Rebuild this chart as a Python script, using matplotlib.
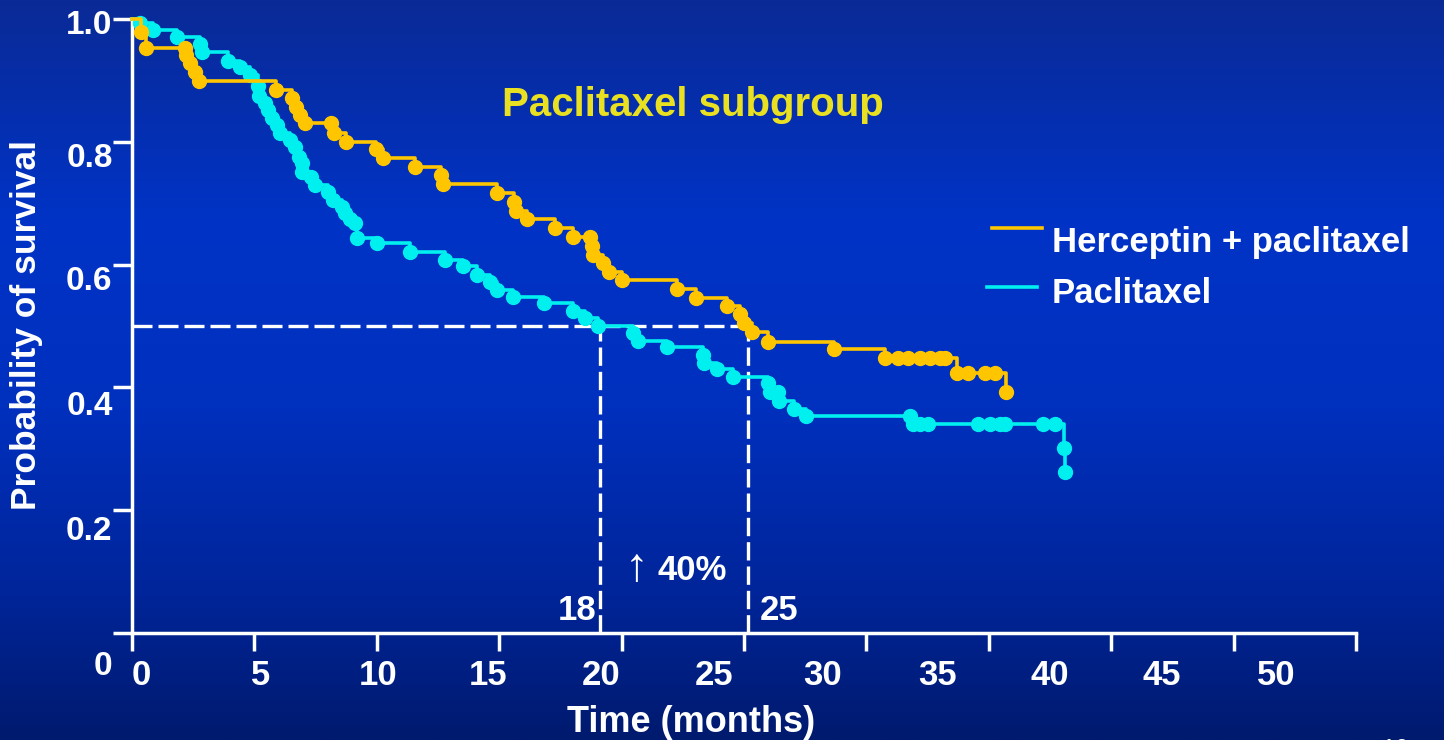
import numpy as np
import matplotlib
matplotlib.use("Agg")
import matplotlib.pyplot as plt
from matplotlib.colors import LinearSegmentedColormap
from matplotlib.lines import Line2D

# ---------------- data ----------------
herceptin_t = [0, 0.37, 0.59, 2.17, 2.21, 2.37, 2.57, 2.74, 5.88, 6.54, 6.70, 6.86, 7.07,
               8.13, 8.25, 8.74, 9.97, 10.25, 11.56, 12.62, 12.70, 14.91, 15.60, 15.69,
               16.14, 17.28, 18.01, 18.70, 18.78, 18.82, 19.25, 19.50, 20.02, 22.26, 23.04,
               24.31, 24.84, 25.00, 25.33, 25.98, 28.68, 30.76, 31.30, 31.71, 32.19, 32.60,
               33.01, 33.21, 33.69, 34.16, 34.85, 35.25, 35.70]
herceptin_s = [1.0, 0.979, 0.952, 0.952, 0.941, 0.928, 0.914, 0.899, 0.885, 0.872, 0.857,
               0.844, 0.830, 0.830, 0.814, 0.800, 0.788, 0.773, 0.759, 0.746, 0.731, 0.716,
               0.702, 0.687, 0.674, 0.660, 0.645, 0.645, 0.630, 0.616, 0.602, 0.588, 0.575,
               0.561, 0.546, 0.532, 0.519, 0.505, 0.491, 0.474, 0.463, 0.448, 0.448, 0.448,
               0.448, 0.448, 0.448, 0.448, 0.424, 0.424, 0.424, 0.424, 0.393]

paclitaxel_t = [0, 0.33, 0.87, 1.83, 2.78, 2.85, 3.93, 4.41, 4.82, 5.15, 5.19, 5.43, 5.56,
                5.71, 5.92, 6.05, 6.45, 6.66, 6.82, 6.93, 6.96, 7.31, 7.48, 8.02, 8.22, 8.57,
                8.70, 8.91, 9.11, 9.18, 10.00, 11.36, 12.79, 13.53, 14.08, 14.62, 14.90,
                15.58, 16.83, 18.03, 18.49, 19.05, 20.48, 20.68, 21.85, 23.31, 23.37, 23.88,
                24.56, 25.99, 26.05, 26.40, 26.45, 27.04, 27.53, 31.78, 31.92, 32.19, 32.53,
                34.57, 35.05, 35.46, 35.66, 37.23, 37.70, 38.06, 38.10]
paclitaxel_s = [1.0, 0.994, 0.982, 0.971, 0.959, 0.947, 0.932, 0.922, 0.909, 0.891, 0.875,
                0.864, 0.852, 0.838, 0.827, 0.814, 0.803, 0.791, 0.776, 0.765, 0.751, 0.743,
                0.730, 0.719, 0.705, 0.694, 0.684, 0.675, 0.667, 0.643, 0.635, 0.621, 0.607,
                0.597, 0.583, 0.572, 0.559, 0.548, 0.537, 0.524, 0.513, 0.500, 0.488, 0.476,
                0.465, 0.453, 0.439, 0.430, 0.417, 0.407, 0.393, 0.393, 0.378, 0.365, 0.353,
                0.353, 0.340, 0.340, 0.340, 0.340, 0.340, 0.340, 0.340, 0.340, 0.340, 0.302,
                0.263]

series_names = ["Herceptin + paclitaxel", "Paclitaxel"]
series_colors = ["#FFC600", "#00F0F0"]

median_survival = 0.5
median_times = [19.1, 25.15]
median_labels = ["18", "25"]
gain_label = "40%"

x_ticks = [0, 5, 10, 15, 20, 25, 30, 35, 40, 45, 50]
x_tick_labels = ["0", "5", "10", "15", "20", "25", "30", "35", "40", "45", "50"]
y_ticks = [0, 0.2, 0.4, 0.6, 0.8, 1.0]
y_tick_labels = ["0", "0.2", "0.4", "0.6", "0.8", "1.0"]

title = "Paclitaxel subgroup"
x_title = "Time (months)"
y_title = "Probability of survival"
page_number = "10"

# ---------------- layout (pixels) ----------------
W, H = 1444, 740
PX0, PXPM = 132.0, 24.48      # x pixel of t=0, pixels per month
PY0, PYPU = 633.0, 614.0      # y pixel of s=0, pixels per unit survival

def t_of(px):
    return (px - PX0) / PXPM

def s_of(py):
    return (PY0 - py) / PYPU

def fx(px):
    return px / W

def fy(py):
    return 1 - py / H

x_label_px = [141, 261, 378, 488, 601, 714, 823, 938, 1050, 1162, 1276]
y_label_py = [663, 528, 403, 278, 155, 22]

plt.rcParams["font.family"] = ["Liberation Sans", "DejaVu Sans"]
plt.rcParams["font.weight"] = "bold"

fig = plt.figure(figsize=(W / 100, H / 100), dpi=100)

# background gradient
bg = fig.add_axes([0, 0, 1, 1], zorder=-10)
cmap = LinearSegmentedColormap.from_list(
    "bg", [(0.0, "#0A2A96"), (0.3, "#0033C6"), (0.55, "#0030BE"),
           (0.8, "#00259A"), (1.0, "#001A6E")])
grad = np.linspace(0, 1, 256).reshape(-1, 1)
bg.imshow(grad, aspect="auto", cmap=cmap, extent=[0, 1, 0, 1], origin="upper")
bg.set_axis_off()

xlim = (-1.0, 52.0)
ylim = (-0.07, 1.03)
lpx = PX0 + PXPM * xlim[0]
rpx = PX0 + PXPM * xlim[1]
bpy = PY0 - PYPU * ylim[0]
tpy = PY0 - PYPU * ylim[1]
ax = fig.add_axes([lpx / W, 1 - bpy / H, (rpx - lpx) / W, (bpy - tpy) / H])
ax.set_xlim(xlim)
ax.set_ylim(ylim)
ax.patch.set_alpha(0)

for side in ["top", "right"]:
    ax.spines[side].set_visible(False)
for side in ["left", "bottom"]:
    ax.spines[side].set_position(("data", 0))
    ax.spines[side].set_color("white")
    ax.spines[side].set_linewidth(2.5)
ax.spines["left"].set_bounds(0, 1.0)
ax.spines["bottom"].set_bounds(0, 50)

# tick marks (minor) and labels (major, offset as in the slide)
ax.set_xticks(x_ticks, minor=True)
ax.set_xticks([t_of(p) for p in x_label_px], x_tick_labels)
ax.set_yticks(y_ticks, minor=True)
ax.set_yticks([s_of(p) for p in y_label_py], y_tick_labels)
ax.tick_params(axis="x", which="minor", direction="out", length=13, width=2.5, color="white")
ax.tick_params(axis="y", which="minor", direction="out", length=14, width=2.5, color="white")
ax.tick_params(axis="x", which="major", length=0, pad=19, labelsize=25, labelcolor="white")
ax.tick_params(axis="y", which="major", length=0, pad=14, labelsize=24, labelcolor="white")

# median dashed lines
ax.plot([0, median_times[1]], [median_survival, median_survival], color="white",
        lw=2.4, dashes=(6, 1.8), solid_capstyle="butt", zorder=2)
for mt in median_times:
    ax.plot([mt, mt], [0, median_survival], color="white", lw=2.4,
            dashes=(5.5, 1.8), zorder=2)

# survival curves
ax.plot(paclitaxel_t, paclitaxel_s, drawstyle="steps-post", color=series_colors[1],
        lw=2.6, zorder=3)
ax.plot(paclitaxel_t[1:], paclitaxel_s[1:], ls="none", marker="o", ms=10,
        color=series_colors[1], mec=series_colors[1], zorder=3)
ax.plot(herceptin_t, herceptin_s, drawstyle="steps-post", color=series_colors[0],
        lw=2.6, zorder=4)
ax.plot(herceptin_t[1:], herceptin_s[1:], ls="none", marker="o", ms=10,
        color=series_colors[0], mec=series_colors[0], zorder=4)

# median labels
ax.text(t_of(597), s_of(620), median_labels[0], color="white", fontsize=25,
        ha="right", va="baseline")
ax.text(t_of(760), s_of(620), median_labels[1], color="white", fontsize=25,
        ha="left", va="baseline")
ax.text(t_of(636), s_of(581), "\u2191", color="white", fontsize=34, fontweight="normal",
        ha="center", va="baseline")
ax.text(t_of(657), s_of(580), gain_label, color="white", fontsize=25,
        ha="left", va="baseline")

# titles
fig.text(fx(693), fy(116), title, color="#E8E020", fontsize=29, ha="center", va="baseline")
fig.text(fx(691), fy(732), x_title, color="white", fontsize=26, ha="center", va="baseline")
fig.text(fx(27), fy(325), y_title, color="white", fontsize=25.5, rotation=90,
         ha="center", va="center")

# legend
leg_line_px = [(992, 1042, 228), (987, 1037, 287)]
leg_text_base = [252, 303]
for (x0, x1, yy), name, col, yb in zip(leg_line_px, series_names, series_colors, leg_text_base):
    fig.add_artist(Line2D([fx(x0), fx(x1)], [fy(yy), fy(yy)], color=col, lw=2.6))
    fig.text(fx(1052), fy(yb), name, color="white", fontsize=25, ha="left", va="baseline")

# slide page number (partly cut off at the bottom, as on the slide)
fig.text(fx(1395), fy(757), page_number, color="white", fontsize=18, fontweight="normal",
         ha="center", va="baseline")

fig.savefig("out.png", dpi=100)
